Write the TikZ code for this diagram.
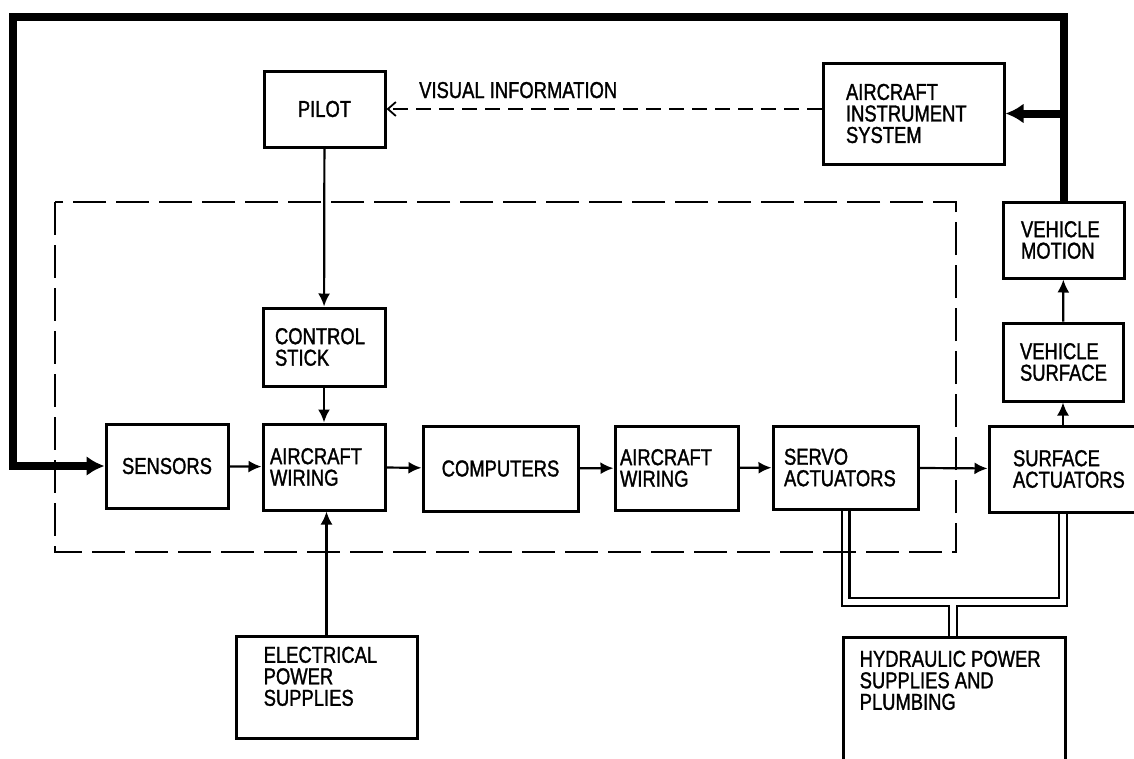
\documentclass[tikz,border=0pt]{standalone}
\usepackage{fontspec}
\setmainfont{Liberation Sans}[FakeStretch=0.8, FakeBold=1.3]
\usetikzlibrary{arrows.meta}

\tikzset{
  blk/.style={draw, line width=3pt, inner ysep=0pt, align=left},
  txt/.style={inner sep=0pt, align=left},
  flow/.style={line width=2.2pt, -{Latex[length=13pt,width=12pt]}},
  fback/.style={line width=8pt, -{Latex[length=18pt,width=20pt]}},
}

\begin{document}
\begin{tikzpicture}[x=1pt, y=-1pt, line join=miter, font=\fontsize{23}{21.5}\selectfont]
  \clip (0,0) rectangle (1134,758);
  % top row
  \node[blk, minimum width=121, minimum height=76, align=center] (pilot) at (324.5,109) {PILOT};
  \node[blk, minimum width=181, minimum height=101, inner xsep=23, text width=135] (ais) at (913.5,113.5) {AIRCRAFT\\INSTRUMENT\\SYSTEM};
  \node[txt, anchor=base west] (vislbl) at (419,98) {VISUAL INFORMATION};
  \node[blk, minimum width=121, minimum height=76, inner xsep=18, text width=85] (vmotion) at (1063.5,240) {VEHICLE\\MOTION};
  \node[blk, minimum width=122, minimum height=78, inner xsep=12, text width=98] (cstick) at (324,347) {CONTROL\\STICK};
  \node[blk, minimum width=120, minimum height=78, inner xsep=17, text width=86] (vsurf) at (1063,362) {VEHICLE\\SURFACE};
  % main row
  \node[blk, minimum width=122, minimum height=84, align=center, inner xsep=0] (sensors) at (167,466) {SENSORS};
  \node[blk, minimum width=122, minimum height=86, inner xsep=7, text width=108] (wire1) at (324,467) {AIRCRAFT\\WIRING};
  \node[blk, minimum width=155, minimum height=85, align=center] (comp) at (500.5,468.5) {COMPUTERS};
  \node[blk, minimum width=123, minimum height=84, inner xsep=5, text width=113] (wire2) at (676.5,468) {AIRCRAFT\\WIRING};
  \node[blk, minimum width=145, minimum height=83, inner xsep=11, text width=123] (servo) at (845.5,467.5) {SERVO\\ACTUATORS};
  \node[blk, minimum width=170, minimum height=86, inner xsep=24, text width=122] (surfact) at (1074,469) {SURFACE\\ACTUATORS};
  % supplies
  \node[blk, minimum width=181, minimum height=102] (elec) at (326.5,687) {};
  \node[txt, anchor=north west] (electxt) at ([shift={(29,12)}]elec.north west) {ELECTRICAL\\POWER\\SUPPLIES};
  \node[blk, minimum width=222, minimum height=124] (hydr) at (954,699) {};
  \node[txt, anchor=north west] (hydrtxt) at ([shift={(18,15)}]hydr.north west) {HYDRAULIC POWER\\SUPPLIES AND\\PLUMBING};

  % feedback loop
  \coordinate (corner) at (13,17);
  \draw[fback] (vmotion.north) |- (corner) |- (sensors.west);
  \draw[fback] (vmotion.north |- ais.east) -- (ais.east);
  \draw[line width=1.8pt, dash pattern=on 15pt off 8pt, -{Straight Barb[length=8pt,width=14pt]}] (ais.west |- pilot.east) -- (pilot.east);

  \draw[flow] (sensors) -- (wire1);
  \draw[flow] (wire1) -- (comp);
  \draw[flow] (comp) -- (wire2);
  \draw[flow] (wire2) -- (servo);
  \draw[flow] (servo) -- (surfact);
  \draw[flow] (pilot) -- (cstick);
  \draw[flow] (cstick) -- (wire1);
  \draw[flow] (elec.north) -- (elec.north |- wire1.south);
  \draw[flow] (vsurf.south |- surfact.north) -- (vsurf.south);
  \draw[flow] (vsurf) -- (vmotion);

  % hydraulic lines
  \coordinate (tee) at (953,602);
  \foreach \w/\c in {10pt/black, 5.6pt/white}
    \draw[line width=\w, \c] (servo.south) |- (tee) -| (vsurf.south |- surfact.south)
      (tee) -- (tee |- hydr.north);

  % flight control system boundary
  \draw[line width=2.2pt, dash pattern=on 33pt off 10pt] (55,202) rectangle (956,552);
\end{tikzpicture}
\end{document}
